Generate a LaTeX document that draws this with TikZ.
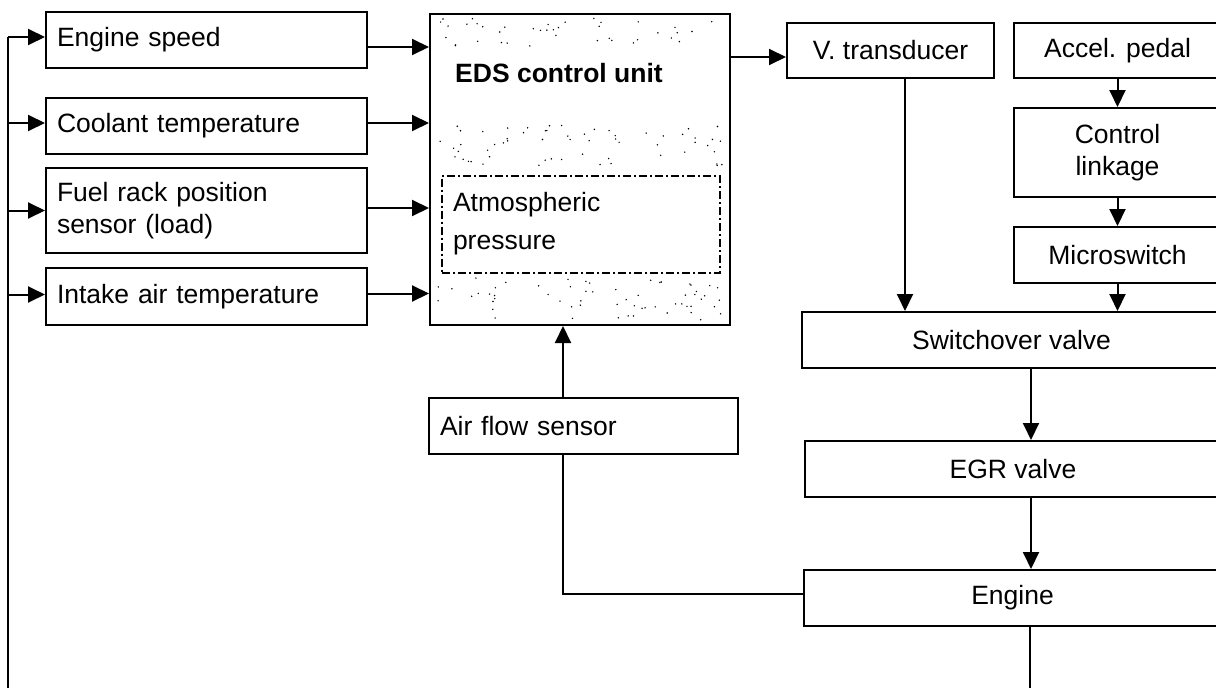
\documentclass[tikz,border=0pt]{standalone}
\usepackage{fontspec}
\setmainfont{Liberation Sans}
\usetikzlibrary{arrows.meta,calc}
\begin{document}
\begin{tikzpicture}[x=1pt,y=-1pt,
  box/.style={draw, line width=2pt, inner sep=0pt, font=\fontsize{26.5}{32}\selectfont},
  lbox/.style={box, align=left, inner xsep=11pt},
  cbox/.style={box, align=center},
  conn/.style={line width=2pt},
  arr/.style={conn, -{Triangle[length=17pt,width=16pt]}},
  dot/.style={fill=black}
]
\useasboundingbox (0,0) rectangle (1216,688);
\clip (0,0) rectangle (1216,688);

% stipple of the control unit
\pgfmathsetseed{42}
\foreach \i in {1,...,40}{\pgfmathsetmacro{\dx}{436+286*rnd}\pgfmathsetmacro{\dy}{18+28*rnd}\fill[dot] (\dx,\dy) circle (0.8pt);}
\foreach \i in {1,...,60}{\pgfmathsetmacro{\dx}{436+286*rnd}\pgfmathsetmacro{\dy}{122+44*rnd}\fill[dot] (\dx,\dy) circle (0.8pt);}
\foreach \i in {1,...,60}{\pgfmathsetmacro{\dx}{436+286*rnd}\pgfmathsetmacro{\dy}{278+42*rnd}\fill[dot] (\dx,\dy) circle (0.8pt);}

% left column
\node[lbox, minimum width=321pt, minimum height=56pt, text width=299pt] (speed) at (206.5,40) {Engine speed};
\node[lbox, minimum width=321pt, minimum height=56pt, text width=299pt] (coolant) at (206.5,126) {Coolant temperature};
\node[lbox, minimum width=321pt, minimum height=85pt, text width=299pt] (fuel) at (206.5,210.5) {Fuel rack position\\sensor (load)};
\node[lbox, minimum width=321pt, minimum height=57pt, text width=299pt] (intake) at (206.5,296.5) {Intake air temperature};

% control unit
\node[box, minimum width=300pt, minimum height=311pt] (eds) at (580,169.5) {};
\node[anchor=west, inner sep=0pt, font=\fontsize{26.5}{32}\selectfont\bfseries] (edstext) at (455,73) {EDS control unit};
\node[box, line width=2pt, dash pattern=on 8pt off 3pt on 2pt off 3pt, align=left, inner xsep=11pt,
      minimum width=278pt, minimum height=97pt, text width=256pt, font=\fontsize{26.5}{32}\selectfont] (atm) at (581,224) {Atmospheric\\[6pt]pressure};

% right column
\node[cbox, minimum width=207pt, minimum height=55pt] (vtrans) at (890.5,50.5) {V. transducer};
\node[cbox, minimum width=207pt, minimum height=55pt] (accel) at (1117.5,50.5) {Accel. pedal};
\node[cbox, minimum width=207pt, minimum height=89pt] (linkage) at (1117.5,152.5) {Control\\linkage};
\node[cbox, minimum width=207pt, minimum height=56pt] (micro) at (1117.5,255) {Microswitch};
\node[cbox, minimum width=419pt, minimum height=56pt] (switch) at (1011.5,340) {Switchover valve};
\node[cbox, minimum width=416pt, minimum height=56pt] (egr) at (1013,469) {EGR valve};
\node[cbox, minimum width=417pt, minimum height=56pt] (engine) at (1012.5,598) {Engine};
\node[lbox, minimum width=309pt, minimum height=56pt, text width=287pt] (airflow) at (583.5,426) {Air flow sensor};

% feedback loop from the engine
\coordinate (fbtop) at (8,37);
\coordinate (fbbot) at (8,720);
\coordinate (engbot) at (1030,720);
\draw[conn] (engbot |- engine.south) -- (engbot) -- (fbbot) -- (fbtop);
\draw[arr] (fbtop) -- (speed.west |- fbtop);
\draw[arr] ($(fbtop |- coolant.west)+(0,-3)$) -- ($(coolant.west)+(0,-3)$);
\draw[arr] (fbtop |- fuel.west) -- (fuel.west);
\draw[arr] ($(fbtop |- intake.west)+(0,-2)$) -- ($(intake.west)+(0,-2)$);

% sensors to control unit
\draw[arr] ($(speed.east)+(0,7)$) -- ($(eds.west |- speed.east)+(0,7)$);
\draw[arr] ($(coolant.east)+(0,-3)$) -- ($(eds.west |- coolant.east)+(0,-3)$);
\draw[arr] ($(fuel.east)+(0,-2.5)$) -- ($(eds.west |- fuel.east)+(0,-2.5)$);
\draw[arr] ($(intake.east)+(0,-3)$) -- ($(eds.west |- intake.east)+(0,-3)$);

% control unit to transducer
\draw[arr] ($(eds.east |- vtrans.west)+(0,6.5)$) -- ($(vtrans.west)+(0,6.5)$);

% pedal chain
\draw[arr] (accel.south) -- (linkage.north);
\draw[arr] (linkage.south) -- (micro.north);
\draw[arr] (micro.south) -- (micro.south |- switch.north);
\coordinate (vt) at ($(vtrans.south)+(14.5,0)$);
\draw[arr] (vt) -- (vt |- switch.north);

% valves and engine
\coordinate (sw) at (1031,0);
\draw[arr] (sw |- switch.south) -- (sw |- egr.north);
\draw[arr] (sw |- egr.south) -- (sw |- engine.north);

% engine to air flow sensor to control unit
\coordinate (af) at (563,0);
\draw[conn] ($(engine.west)+(0,-4)$) -| (af |- airflow.south);
\draw[arr] (af |- airflow.north) -- (af |- eds.south);
\end{tikzpicture}
\end{document}
